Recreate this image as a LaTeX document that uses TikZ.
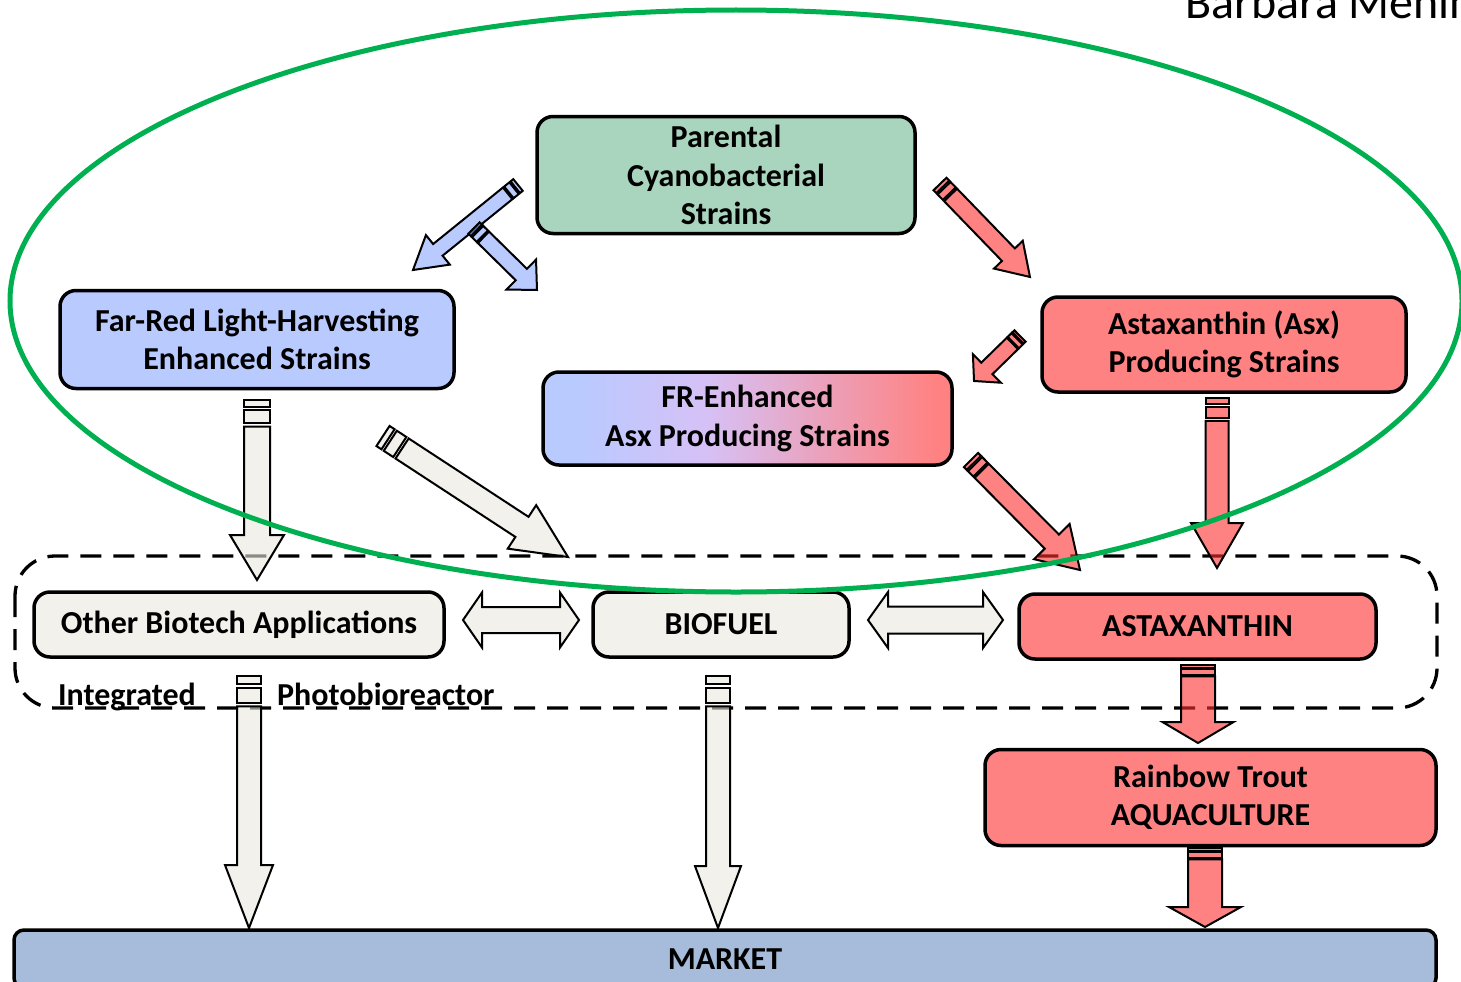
\documentclass[tikz,border=0pt]{standalone}
\usepackage{fontspec}
\setmainfont{Carlito}
\definecolor{parg}{RGB}{169,212,189}
\definecolor{blueb}{RGB}{185,202,255}
\definecolor{redb}{RGB}{255,130,130}
\definecolor{grayb}{RGB}{242,241,236}
\definecolor{mkt}{RGB}{166,188,218}
\definecolor{ellg}{RGB}{0,176,80}
\definecolor{lav}{RGB}{214,193,246}
\definecolor{arrgray}{RGB}{233,232,223}
\definecolor{arrred}{RGB}{255,47,47}
\definecolor{arrblue}{RGB}{138,167,255}
% TikZ maps a path onto the middle 25bp--75bp of a named shading
\pgfdeclarehorizontalshading{frgrad}{100bp}{color(0bp)=(blueb); color(29bp)=(blueb); color(45bp)=(lav); color(73bp)=(redb); color(100bp)=(redb)}
% block arrow with striped tail: style, x1, y1, x2, y2, shaft width, head width, head length, stripe unit
\newcommand\barrow[9]{%
 \pgfmathsetmacro\bAng{atan2(-((#5)-(#3)),(#4)-(#2))}%
 \pgfmathsetmacro\bLen{veclen((#4)-(#2),(#5)-(#3))}%
 \pgfmathsetmacro\bW{(#6)/2}\pgfmathsetmacro\bH{(#7)/2}%
 \pgfmathsetmacro\bA{#9}\pgfmathsetmacro\bB{1.45*(#9)}\pgfmathsetmacro\bC{3.35*(#9)}\pgfmathsetmacro\bT{3.8*(#9)}%
 \pgfmathsetmacro\bHB{\bLen-(#8)}%
 \begin{scope}[shift={(#2,#3)},rotate=\bAng]
  \path[#1] (0,-\bW) rectangle (\bA,\bW);
  \path[#1] (\bB,-\bW) rectangle (\bC,\bW);
  \path[#1] (\bT,-\bW) -- (\bHB,-\bW) -- (\bHB,-\bH) -- (\bLen,0) -- (\bHB,\bH) -- (\bHB,\bW) -- (\bT,\bW) -- cycle;
 \end{scope}}
% horizontal double arrow: style, x1, x2, y, shaft width, head width, head length
\newcommand\dblarrow[7]{%
 \pgfmathsetmacro\dW{(#5)/2}\pgfmathsetmacro\dH{(#6)/2}%
 \pgfmathsetmacro\dL{(#2)+(#7)}\pgfmathsetmacro\dR{(#3)-(#7)}%
 \path[#1] (#2,#4) -- (\dL,#4-\dH) -- (\dL,#4-\dW) -- (\dR,#4-\dW) -- (\dR,#4-\dH) -- (#3,#4)
   -- (\dR,#4+\dH) -- (\dR,#4+\dW) -- (\dL,#4+\dW) -- (\dL,#4+\dH) -- cycle;}
\begin{document}
\begin{tikzpicture}[x=1pt,y=-1pt,
  box/.style={draw=black, line width=3.5pt, rounded corners=16pt, align=center, inner sep=0pt,
    font=\bfseries\fontsize{32}{38.5}\selectfont},
  lbl/.style={inner sep=0pt, font=\bfseries\fontsize{32}{38.5}\selectfont},
  grayarrow/.style={draw=black, line width=2pt, line join=miter, fill=arrgray, fill opacity=0.6},
  redarrow/.style={draw=black, line width=2pt, line join=miter, fill=arrred, fill opacity=0.6},
  bluearrow/.style={draw=black, line width=2pt, line join=miter, fill=arrblue, fill opacity=0.6},
  dashbox/.style={draw=black, line width=3.3pt, dash pattern=on 21pt off 12pt, rounded corners=40pt},
  ringline/.style={draw=ellg, line width=5pt}]
\useasboundingbox (0,0) rectangle (1461,982);
\clip (0,0) rectangle (1461,982);

% author name (cut off at the top, as in the reference)
\node[inner sep=0pt, anchor=base west, font=\fontsize{48}{52}\selectfont] (author) at (1185,19) {Barbara Menin};

% boxes
\node[box, fill=parg, minimum width=378pt, minimum height=117pt] (parental) at (726,175) {Parental\\Cyanobacterial\\Strains};
\node[box, fill=blueb, minimum width=394pt, minimum height=98pt] (farred) at (257,339.5) {Far-Red Light-Harvesting\\Enhanced Strains};
\node[box, fill=redb, minimum width=364pt, minimum height=95pt] (asx) at (1224,344.5) {Astaxanthin (Asx)\\Producing Strains};
\node[box, shade, shading=frgrad, minimum width=409pt, minimum height=93pt] (frenh) at (747.5,418.5) {FR-Enhanced\\Asx Producing Strains};

\path[dashbox] (15,556) rectangle (1437,708);

\node[box, fill=grayb, minimum width=410pt, minimum height=65pt] (other) at (239,624.5) {Other Biotech Applications};
\node[box, fill=grayb, minimum width=256pt, minimum height=65pt] (biofuel) at (721,624.5) {BIOFUEL};
\node[box, fill=redb, minimum width=357pt, minimum height=65pt] (astax) at (1197.5,626.5) {ASTAXANTHIN};
\node[box, fill=redb, minimum width=451pt, minimum height=96pt] (trout) at (1210.5,797.5) {Rainbow Trout\\AQUACULTURE};
\node[box, fill=mkt, minimum width=1422pt, minimum height=58pt, rounded corners=10pt] (market) at (725,959) {MARKET};

\node[lbl, anchor=base west] (integrated) at (58,705) {Integrated};
\node[lbl, anchor=base west] (photo) at (277,705) {Photobioreactor};

% block arrows
\barrow{bluearrow}{518}{185}{413}{270}{15}{38}{32}{3.5}
\barrow{bluearrow}{474}{228}{537}{290}{16}{42}{22}{3.5}
\barrow{redarrow}{940}{184}{1030}{277}{18}{40}{31}{4}
\barrow{redarrow}{1020}{336}{974}{381}{16}{40}{18}{2.8}
\barrow{grayarrow}{257}{400}{257}{580}{26}{54}{45}{7}
\barrow{grayarrow}{383}{436}{568}{557}{24}{52}{55}{6}
\barrow{redarrow}{971}{460}{1080}{570}{20}{50}{40}{4}
\barrow{redarrow}{1217}{398}{1217}{568}{23}{52}{45}{6}
\dblarrow{grayarrow}{463}{579}{620}{26}{55}{19}
\dblarrow{grayarrow}{868}{1003}{620}{27}{56}{20}
\barrow{redarrow}{1198}{665}{1198}{743}{34}{71}{21}{3}
\barrow{redarrow}{1205}{848}{1205}{927}{34}{72}{20}{3}
\barrow{grayarrow}{249}{676}{249}{928}{24}{48}{63}{8}
\barrow{grayarrow}{718}{676}{718}{928}{24}{46}{62}{8}

% green ring
\path[ringline] (736,301) ellipse [x radius=726, y radius=291];
\end{tikzpicture}
\end{document}
